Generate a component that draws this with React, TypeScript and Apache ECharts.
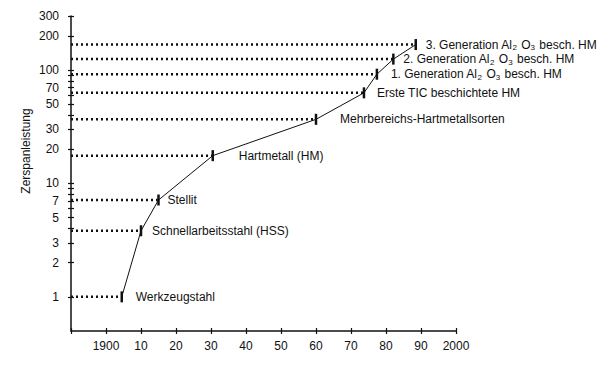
import React, { useEffect, useRef } from "react";
import * as echarts from "echarts";

const materials = [
  "Werkzeugstahl",
  "Schnellarbeitsstahl (HSS)",
  "Stellit",
  "Hartmetall (HM)",
  "Mehrbereichs-Hartmetallsorten",
  "Erste TIC beschichtete HM",
  "1. Generation Al₂ O₃ besch. HM",
  "2. Generation Al₂ O₃ besch. HM",
  "3. Generation Al₂ O₃ besch. HM",
];
const years = [1904.5, 1910, 1915, 1930.5, 1960, 1973.7, 1977.4, 1982.1, 1988.5];
const performance = [1, 3.83, 7.15, 17.6, 36.8, 63, 92, 125, 168];

const yLabelValues = [1, 2, 3, 5, 7, 10, 20, 30, 50, 70, 100, 200, 300];
const yTickValues = [1, 2, 3, 4, 5, 6, 7, 8, 9, 10, 20, 30, 40, 50, 60, 70, 80, 90, 100, 200, 300];
const xMin = 1890;
const xMax = 2000;
const yMin = 0.5;
const yMax = 300;

// style: gap between marker and label text, px
const labelGaps = [14, 11, 9, 26, 24, 13, 14, 10, 10];

const FONT = "'Liberation Sans', Arial, sans-serif";
const INK = "#111";

// turn "Al₂ O₃" into rich text with real subscripts
const SUBS: Record<string, string> = { "₂": "2", "₃": "3" };
function richLabel(s: string): string {
  let out = "";
  let buf = "";
  for (const ch of s) {
    if (SUBS[ch]) {
      if (buf) out += `{a|${buf}}`;
      buf = "";
      out += `{s|${SUBS[ch]}}`;
    } else buf += ch;
  }
  if (buf) out += `{a|${buf}}`;
  return out;
}

export default function App() {
  const ref = useRef<HTMLDivElement>(null);
  useEffect(() => {
    if (!ref.current) return;
    const chart = echarts.init(ref.current, undefined, { renderer: "svg" });

    const dotted = materials.map((m, i) => ({
      type: "line",
      yAxisIndex: 0,
      silent: true,
      symbol: "none",
      z: 1,
      lineStyle: { color: INK, width: 2.5, type: [2, 3] as any, cap: "butt" },
      data: [
        [xMin, performance[i]],
        [years[i], performance[i]],
      ],
    }));

    const main = {
      type: "line",
      yAxisIndex: 0,
      z: 3,
      symbol: "rect",
      symbolSize: [2.5, 11],
      showAllSymbol: true,
      itemStyle: { color: INK },
      lineStyle: { color: INK, width: 1 },
      label: {
        show: true,
        position: "right",
        color: INK,
        fontSize: 12,
        fontFamily: FONT,
        formatter: (p: any) => richLabel(p.name),
        rich: {
          a: { color: INK, fontSize: 12, fontFamily: FONT, lineHeight: 14 },
          s: {
            color: INK,
            fontSize: 8,
            fontFamily: FONT,
            lineHeight: 8,
            verticalAlign: "bottom",
            padding: [0, 1, 0, 0],
          },
        },
      },
      data: materials.map((m, i) => ({
        name: m,
        value: [years[i], performance[i]],
        label: { distance: labelGaps[i] - 1.25 },
      })),
    };

    const xTickCommon = {
      type: "value",
      min: xMin,
      max: xMax,
      interval: 10,
      splitLine: { show: false },
    };

    chart.setOption({
      animation: false,
      backgroundColor: "#fff",
      grid: { left: 71, right: 144, top: 16, bottom: 37, containLabel: false },
      xAxis: [
        {
          ...xTickCommon,
          axisLine: { show: true, onZero: false, lineStyle: { color: INK, width: 1.5 } },
          axisTick: { show: true, length: 3, lineStyle: { color: INK, width: 1.2 } },
          axisLabel: {
            color: INK,
            fontSize: 12,
            fontFamily: FONT,
            margin: 9,
            formatter: (v: number) => {
              if (v === xMin) return "";
              if (v === 1900 || v === 2000) return String(v);
              return String(v % 100);
            },
          },
        },
        {
          ...xTickCommon,
          position: "bottom",
          offset: 0,
          axisLine: { show: false, onZero: false },
          axisTick: { show: true, inside: true, length: 3, lineStyle: { color: INK, width: 1.2 } },
          axisLabel: { show: false },
        },
      ],
      yAxis: [
        {
          type: "log",
          logBase: 10,
          min: yMin,
          max: yMax,
          axisLine: { show: true, onZero: false, lineStyle: { color: INK, width: 1.5 } },
          axisTick: { show: false },
          axisLabel: { show: false },
          splitLine: { show: false },
          minorTick: { show: false },
        },
        {
          type: "value",
          position: "left",
          min: Math.log10(yMin),
          max: Math.log10(yMax),
          axisLine: { show: false, onZero: false },
          splitLine: { show: false },
          axisTick: {
            show: true,
            length: 3,
            customValues: yTickValues.map((v) => Math.log10(v)),
            lineStyle: { color: INK, width: 1.2 },
          },
          axisLabel: {
            show: true,
            color: INK,
            fontSize: 12,
            fontFamily: FONT,
            margin: 12,
            customValues: yLabelValues.map((v) => Math.log10(v)),
            formatter: (v: number) => String(Math.round(Math.pow(10, v))),
          },
        },
        {
          type: "value",
          position: "left",
          offset: 0,
          min: Math.log10(yMin),
          max: Math.log10(yMax),
          axisLine: { show: false, onZero: false },
          splitLine: { show: false },
          axisTick: {
            show: true,
            inside: true,
            length: 3,
            customValues: yTickValues.map((v) => Math.log10(v)),
            lineStyle: { color: INK, width: 1.2 },
          },
          axisLabel: { show: false },
        },
      ],
      graphic: [
        {
          type: "text",
          x: 26,
          y: 151,
          rotation: Math.PI / 2,
          style: {
            text: "Zerspanleistung",
            fill: INK,
            fontSize: 12,
            fontFamily: FONT,
            textAlign: "center",
            textVerticalAlign: "middle",
          },
        },
      ],
      series: [...dotted, main],
    });

    return () => chart.dispose();
  }, []);

  return (
    <div
      ref={ref}
      style={{ position: "fixed", left: 0, top: 0, width: 600, height: 368 }}
    />
  );
}
